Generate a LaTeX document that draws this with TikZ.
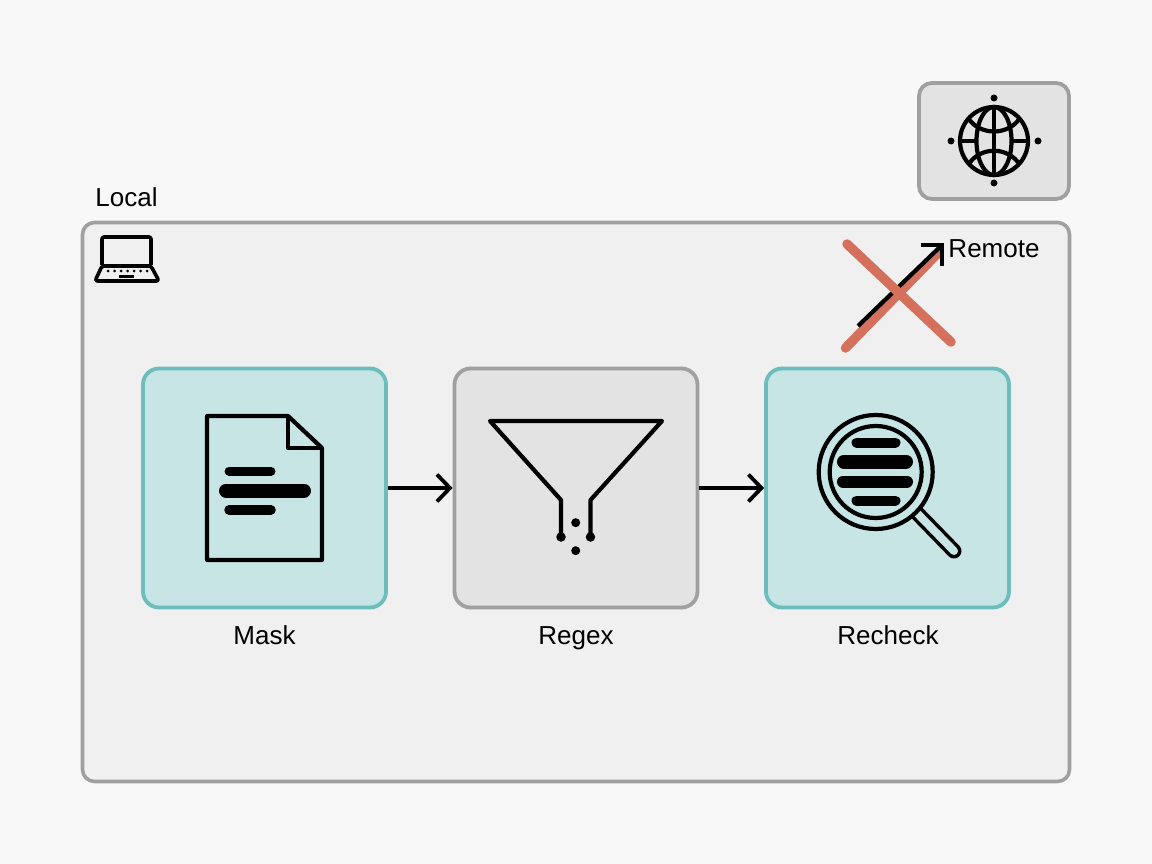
\documentclass[tikz,border=0pt]{standalone}
\usepackage{fontspec}
\setmainfont{Liberation Sans}
\usepackage{tikz}
\usetikzlibrary{arrows.meta,calc,positioning}
\definecolor{pagebg}{HTML}{F8F8F8}
\definecolor{localbg}{HTML}{F0F0F0}
\definecolor{boxgray}{HTML}{E3E3E3}
\definecolor{rimgray}{HTML}{A0A0A0}
\definecolor{boxteal}{HTML}{C7E5E5}
\definecolor{rimteal}{HTML}{6DBDBD}
\definecolor{crossred}{HTML}{D4705C}
\tikzset{
  panel/.style    = {draw=rimgray, line width=3.6pt, fill=localbg, rounded corners=12pt,
                     minimum width=987pt, minimum height=559pt},
  graybox/.style  = {draw=rimgray, line width=3.8pt, fill=boxgray, rounded corners=16pt,
                     minimum width=243pt, minimum height=239pt},
  tealbox/.style  = {graybox, draw=rimteal, fill=boxteal},
  globebox/.style = {graybox, minimum width=150pt, minimum height=116pt, rounded corners=13pt},
  lbl/.style      = {font=\fontsize{26}{30}\selectfont, inner sep=0pt, text=black,
                     text height=19pt, text depth=5pt},
  icon/.style     = {line width=4.2pt, black, line join=round},
  bar/.style      = {line cap=round, black},
  flow/.style     = {line width=3.8pt, -{Straight Barb[length=13pt,width=27pt,line width=3.8pt]}},
  cross/.style    = {crossred, line width=9.5pt, line cap=round},
  pin/.style      = {circle, fill=black, inner sep=0pt, minimum size=8pt},
}

\begin{document}
\begin{tikzpicture}[x=1pt,y=-1pt]
  \fill[pagebg] (0,0) rectangle (1152,864);
  \useasboundingbox (0,0) rectangle (1152,864);

  \node[panel] (localpanel) at (576,502) {};
  \node[globebox] (globe) at (994,141) {};
  \node[tealbox] (mask) at (264.5,488) {};
  \node[graybox] (regex) at (576,488) {};
  \node[tealbox] (recheck) at (887.5,488) {};

  \node[lbl] (locallabel) at (126.5,200) {Local};
  \node[lbl] (remotelabel) at (994,250) {Remote};
  \node[lbl] (masklabel) at (264.5,637) {Mask};
  \node[lbl] (regexlabel) at (576,637) {Regex};
  \node[lbl] (rechecklabel) at (888,637) {Recheck};

  \draw[flow] (mask.east |- 0,488) -- (regex.west |- 0,488);
  \draw[flow] (regex.east |- 0,488) -- (recheck.west |- 0,488);

  % laptop
  \draw[icon,line width=3.6pt,rounded corners=2pt] (102,265) -- (102,237) -- (151,237) -- (151,265);
  \draw[icon,line width=3.6pt,rounded corners=2.5pt] (102,266) -- (151,266) -- (159,281) -- (95,281) -- cycle;
  \foreach \x in {108,114.5,...,147}
    \fill (\x,271) circle (1.5pt);
  \draw[bar,line width=3pt,line cap=butt] (119,276.5) -- (134,276.5);

  % globe
  \draw[icon] (994,141) circle (34pt);
  \draw[icon] (994,141) ellipse (17.5pt and 34pt);
  \draw[icon] (994,106) -- (994,176);
  \draw[icon] (960,141) -- (976.5,141);
  \draw[icon] (1011.5,141) -- (1028,141);
  \draw[icon] (968,118) .. controls (980,136) and (1008,136) .. (1020,118);
  \draw[icon] (968,165) .. controls (980,146) and (1008,146) .. (1020,165);
  \node[pin,minimum size=7pt] (globetop) at (994,98) {};
  \node[pin,minimum size=7pt] (globebottom) at (994,183) {};
  \node[pin,minimum size=7pt] (globeleft) at (951,141) {};
  \node[pin,minimum size=7pt] (globeright) at (1038,141) {};

  % blocked link
  \coordinate (linkstart) at (858,326);
  \coordinate (linkend) at (942,245);
  \draw[cross] (845.5,348) -- (939,252);
  \draw[icon,line join=miter] (linkstart) -- (linkend);
  \draw[icon,line join=miter] (921,245) -- (942,245) -- (942,266);
  \draw[cross] (847,244) -- (951,342);

  % document
  \draw[icon] (288,416) -- (207,416) -- (207,560) -- (322,560) -- (322,448) -- cycle;
  \draw[icon] (288,416) -- (288,448) -- (322,448);
  \draw[bar,line width=9pt] (229,471) -- (271,471);
  \draw[bar,line width=14pt] (226,490.5) -- (304,490.5);
  \draw[bar,line width=9.5pt] (229,510) -- (271,510);

  % funnel
  \draw[icon] (561,537) -- (561,500) -- (490,421) -- (662,421) -- (590.5,500) -- (590.5,537);
  \node[pin,minimum size=9.5pt] (funnelleft) at (561,537) {};
  \node[pin,minimum size=9.5pt] (funnelright) at (590.5,537) {};
  \node[pin,minimum size=9pt] (grainone) at (575.7,522.7) {};
  \node[pin,minimum size=9pt] (graintwo) at (575.7,550.7) {};

  % magnifier
  \draw[line width=15pt,line cap=round] (916,512) -- (954,551);
  \draw[boxteal,line width=8pt,line cap=round] (916,512) -- (954,551);
  \draw[icon,fill=boxteal] (875.7,472) circle (57pt);
  \draw[icon] (875.7,472) circle (46pt);
  \draw[bar,line width=10pt] (856.5,442.5) -- (895.5,442.5);
  \draw[bar,line width=14pt] (844,461.5) -- (906,461.5);
  \draw[bar,line width=12pt] (843,481.5) -- (907,481.5);
  \draw[bar,line width=10pt] (856.5,500.5) -- (895.5,500.5);
\end{tikzpicture}
\end{document}
